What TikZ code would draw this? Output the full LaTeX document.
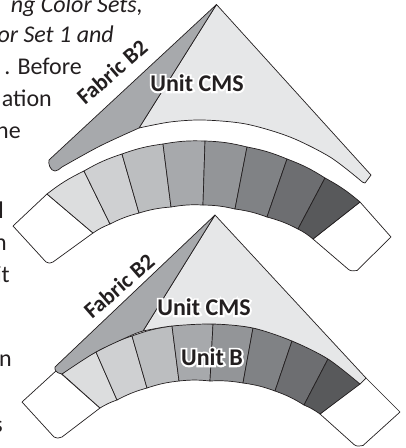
\documentclass[tikz,border=0pt]{standalone}
\usepackage{fontspec}
\setmainfont{Carlito}
\newfontfamily\halofont[BoldFeatures={FakeBold=16},UprightFeatures={FakeBold=16}]{Carlito}
\definecolor{ink}{HTML}{231F20}
\definecolor{kitelight}{HTML}{E6E7E8}
\definecolor{kitedark}{HTML}{A7A9AC}
\definecolor{sa}{HTML}{DCDDDE}
\definecolor{sb}{HTML}{CFD0D2}
\definecolor{sc}{HTML}{BCBEC0}
\definecolor{sd}{HTML}{A7A9AC}
\definecolor{se}{HTML}{939598}
\definecolor{sf}{HTML}{808285}
\definecolor{sg}{HTML}{6D6E71}
\definecolor{sh}{HTML}{58595B}
\tikzset{
  edge/.style={draw=ink,line width=0.7pt,line join=round},
  body/.style={font=\fontsize{24}{28}\selectfont,text=ink,anchor=base east,inner sep=0pt},
  bodyit/.style={body,font=\fontsize{24}{28}\selectfont\itshape},
  unitlabel/.style={font=\fontsize{24}{28}\selectfont\bfseries,text=ink,inner sep=0pt},
  unithalo/.style={font=\halofont\fontsize{24}{28}\selectfont\bfseries,text=white,inner sep=0pt},
  fabriclabel/.style={font=\fontsize{22.5}{26}\selectfont\bfseries,text=ink,inner sep=0pt,rotate=41}
}
% #1,#2 upper edge (left, right); #3,#4 lower edge (right, left); #5 fill
\newcommand{\bandseg}[5]{\path[edge,fill=#5] #1 to[bend left=6] #2 -- #3 to[bend right=6] #4 -- cycle;}
\begin{document}
\begin{tikzpicture}[x=1pt,y=-1pt]
\useasboundingbox (0,0) rectangle (406,448);
% body text (cut by the page edge)
\node[bodyit] (t1) at (143,12) {ng Color Sets,};
\node[bodyit] (t2) at (114,42) {or Set 1 and};
\node[body] (t3) at (82,74) {. Before};
\node[body] (t4) at (52,106) {ation};
\node[body] (t5) at (21,138) {ne};
\node[body] (t6) at (4,218) {l};
\node[body] (t7) at (7,250) {n};
\node[body] (t8) at (10,282) {it};
\node[body] (t9) at (12,366) {n};
\node[body] (t10) at (3,432) {s};

% ---- upper unit: kite
\path[fill=kitelight,edge] (216.5,4.5) -- (139,128)
  -- plot[smooth] coordinates {(139,128) (170,122) (203,120) (246,124) (290,137) (330,157) (360,180)}
  .. controls (362,182) and (363.5,183) .. (365,183)
  -- (371,175) -- cycle;
\path[fill=kitedark,edge] (216.5,4.5) -- (49,160)
  .. controls (48,163) and (50,171) .. (55,171)
  .. controls (57,171) and (60,169) .. (62,167)
  -- plot[smooth] coordinates {(62,167) (100,146) (139,128)} -- cycle;
% upper unit: white ends
\path[edge,fill=white] (47,194) -- (13,226) -- (46,262)
  .. controls (48,263.5) and (51,263.5) .. (53,262) -- (93,233) -- cycle;
\path[edge,fill=white] (360,202) -- (391,237) -- (357,270.5)
  .. controls (354,271.5) and (350,271) .. (348,269) -- (313,239) -- cycle;
% upper unit: band
\bandseg{(47,194)}{(84,171)}{(110,224)}{(93,233)}{sa}
\bandseg{(84,171)}{(122,154)}{(139,213)}{(110,224)}{sb}
\bandseg{(122,154)}{(163,144)}{(171,207)}{(139,213)}{sc}
\bandseg{(163,144)}{(205,141)}{(203,205)}{(171,207)}{sd}
\bandseg{(205,141)}{(247,147)}{(235,209)}{(203,205)}{se}
\bandseg{(247,147)}{(287,159)}{(267,217)}{(235,209)}{sf}
\bandseg{(287,159)}{(325,178)}{(298,229)}{(267,217)}{sg}
\bandseg{(325,178)}{(360,202)}{(313,239)}{(298,229)}{sh}

% ---- lower unit: white ends
\path[edge,fill=white] (57,370) -- (22,402) -- (54,437)
  .. controls (56,438.5) and (59,438.5) .. (62,437) -- (100,408) -- cycle;
\path[edge,fill=white] (366,378) -- (400,412) -- (363,445.5)
  .. controls (360,446.5) and (356,446.5) .. (354,444.5) -- (320,414) -- cycle;
% lower unit: band
\bandseg{(62,374)}{(96,352)}{(117,400)}{(100,408)}{sa}
\bandseg{(96,352)}{(132,336)}{(147,388)}{(117,400)}{sb}
\bandseg{(132,336)}{(172,326)}{(179,381)}{(147,388)}{sc}
\bandseg{(172,326)}{(213,324)}{(210,381)}{(179,381)}{sd}
\bandseg{(213,324)}{(253,328)}{(243,383)}{(210,381)}{se}
\bandseg{(253,328)}{(292,341)}{(275,391)}{(243,383)}{sf}
\bandseg{(292,341)}{(328,359)}{(304,405)}{(275,391)}{sg}
\bandseg{(328,359)}{(360,384)}{(320,414)}{(304,405)}{sh}
% lower unit: kite
\path[fill=kitelight,edge] (215,215) -- (143,331)
  -- plot[smooth] coordinates {(143,331) (172,326) (213,324) (253,328) (292,341) (328,359) (360,384)}
  -- (366,378) -- cycle;
\path[fill=kitedark,edge] (215,215) -- (55,367)
  .. controls (54.5,370) and (56,373) .. (62,374)
  -- plot[smooth] coordinates {(62,374) (96,352) (132,335) (143,331)} -- cycle;

% labels
\node[fabriclabel] (f1) at (112,72) {Fabric B2};
\node[fabriclabel] (f2) at (119,286) {Fabric B2};
\node[unithalo] (h1) at (197,83) {Unit CMS};
\node[unitlabel] (u1) at (197,83) {Unit CMS};
\node[unithalo] (h2) at (204,307) {Unit CMS};
\node[unitlabel] (u2) at (204,307) {Unit CMS};
\node[unithalo] (h3) at (212,357) {Unit B};
\node[unitlabel] (u3) at (212,357) {Unit B};
\end{tikzpicture}
\end{document}
